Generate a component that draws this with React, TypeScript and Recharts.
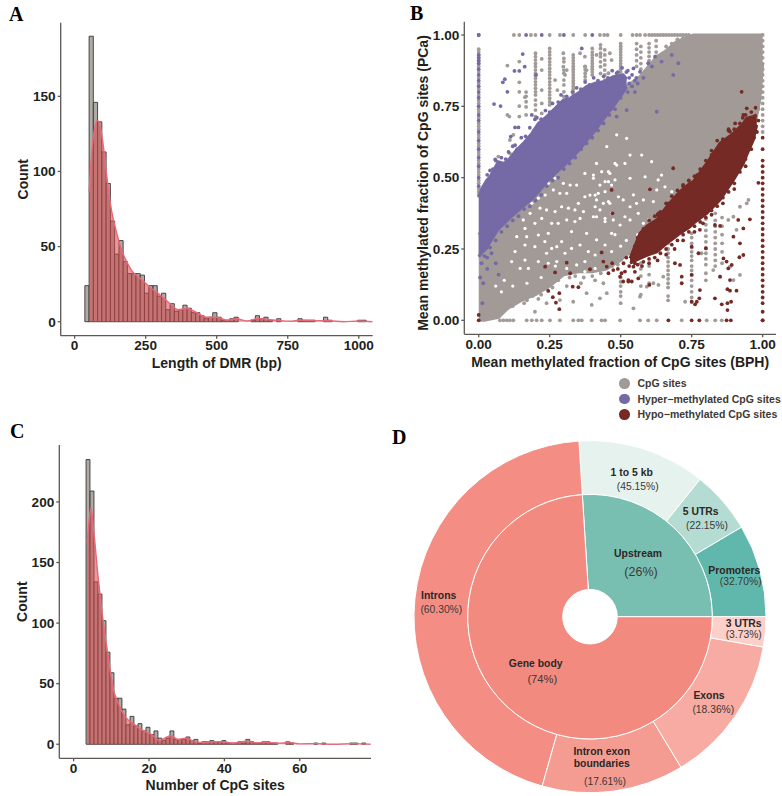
import React from 'react';
import {
  Area,
  Bar,
  ComposedChart,
  Pie,
  PieChart,
  Scatter,
  XAxis,
  YAxis,
} from 'recharts';

// Panel A: histogram of DMR length
const lengthBinStart = 36;
const lengthBinWidth = 15;
const lengthCounts = [
  24, 190, 146, 133, 113, 92, 67, 45, 54, 40, 32, 32, 32, 31, 19, 24, 24, 17, 19, 8, 12, 7, 8, 11,
  9, 6, 6, 4, 2, 3, 6, 3, 1, 1, 2, 3, 0, 0, 0, 1, 4, 2, 3, 1, 0, 2, 0, 0, 0, 0, 2, 1, 1, 1, 0, 0,
  3, 1, 0, 0, 0, 0, 0, 0, 1, 1, 0, 0,
];
const lengthKdeX = [
  51, 60, 72, 80, 89, 101, 113, 130, 148, 165, 183, 201, 230, 265, 300, 336, 365, 394, 430, 465,
  500, 535, 570, 606, 647, 676, 711, 758, 793, 864, 899, 946, 1000, 1049,
];
const lengthKdeY = [
  86, 112, 130, 134, 131, 117, 97, 74, 59, 48, 40, 34, 29, 23, 18, 12, 8, 9, 6, 3, 3, 1, 2, 0.5,
  2.2, 1.5, 1, 0.3, 1, 0.7, 0.6, 0, 0.5, 0,
];

// Panel C: histogram of CpG sites per DMR
const cpgBinStart = 3.3;
const cpgBinWidth = 1.06;
const cpgCounts = [
  235, 209, 134, 124, 102, 76, 59, 38, 38, 29, 16, 23, 15, 17, 11, 14, 8, 11, 5, 3, 5, 11, 4, 4, 4,
  6, 3, 4, 1, 2, 2, 3, 2, 2, 3, 1, 1, 1, 2, 1, 4, 2, 1, 1, 2, 2, 1, 1, 0, 0, 2, 1, 0, 0, 0, 0, 0,
  1, 0, 1, 0, 0, 0, 0, 0, 0, 1, 1, 0, 1, 0,
];
const cpgKdeX = [
  3.6, 4.15, 4.6, 5.2, 6.5, 7.9, 9.2, 10.5, 11.8, 13.6, 15.8, 18, 20.7, 22.9, 24.4, 25.8, 27.7,
  29.9, 32.2, 34.4, 37, 39.7, 42.3, 45.8, 48.5, 51.1, 54.2, 57.3, 60, 64.4, 68.8, 74.1, 78.8,
];
const cpgKdeY = [
  166, 186, 195, 180, 138, 100, 72, 46, 34, 23, 17, 12, 8, 3, 5.5, 7, 4, 5, 2, 1.4, 2, 2, 0.8, 2.5,
  1.1, 1.6, 0.8, 1.4, 0.3, 0.5, 0, 0.5, 0,
];

// Panel B: the solid clouds are far too many points to read one by one, so they are
// drawn as bands whose edges were read off the picture; loose dots are listed below.
const cloudX = [0, 0.02, 0.07, 0.1, 0.15, 0.2, 0.25, 0.3, 0.35, 0.4, 0.45, 0.5, 0.521, 0.568, 0.627, 0.66, 0.697, 0.756, 0.85, 0.897, 0.932, 0.967, 0.99, 1];
const cloudLow = [0, 0, 0.01, 0.04, 0.07, 0.09, 0.12, 0.16, 0.17, 0.17, 0.18, 0.21, 0.23, 0.25, 0.28, 0.31, 0.33, 0.38, 0.47, 0.515, 0.574, 0.655, 0.772, 0.9];
const cloudHigh = [0.3, 0.33, 0.45, 0.5, 0.55, 0.62, 0.68, 0.73, 0.77, 0.8, 0.82, 0.8, 0.82, 0.854, 0.924, 0.945, 0.977, 1, 1, 1, 1, 1, 1, 1];

const hyperX = [0, 0.01, 0.028, 0.04, 0.069, 0.09, 0.11, 0.128, 0.157, 0.187, 0.21, 0.239, 0.269, 0.298, 0.322, 0.357, 0.38, 0.41, 0.439, 0.474, 0.509, 0.521];
const hyperLow = [0.223, 0.235, 0.253, 0.275, 0.32, 0.34, 0.36, 0.375, 0.4, 0.425, 0.45, 0.485, 0.515, 0.54, 0.565, 0.6, 0.63, 0.665, 0.705, 0.75, 0.8, 0.818];
const hyperHigh = [0.43, 0.46, 0.49, 0.503, 0.556, 0.55, 0.568, 0.591, 0.62, 0.655, 0.69, 0.714, 0.743, 0.772, 0.778, 0.801, 0.819, 0.831, 0.836, 0.854, 0.86, 0.845];

const hypoX = [0.533, 0.568, 0.592, 0.627, 0.662, 0.685, 0.709, 0.744, 0.756, 0.803, 0.85, 0.897, 0.932, 0.944, 0.967, 0.979];
const hypoLow = [0.2, 0.217, 0.228, 0.24, 0.27, 0.287, 0.305, 0.328, 0.34, 0.375, 0.422, 0.492, 0.55, 0.58, 0.632, 0.685];
const hypoHigh = [0.217, 0.305, 0.33, 0.352, 0.398, 0.425, 0.451, 0.48, 0.486, 0.55, 0.62, 0.655, 0.69, 0.708, 0.715, 0.72];

// loose dots in columns: each x with the y values seen along it
const grayColumns: [number, number[]][] = [
  [0, [0.95, 0.94, 0.93, 0.92, 0.91, 0.9, 0.89, 0.87, 0.85, 0.83, 0.81, 0.79, 0.77, 0.76, 0.74, 0.73, 0.71, 0.69, 0.68, 0.67, 0.65, 0.64, 0.62, 0.61, 0.59, 0.58, 0.56, 0.55, 0.53, 0.52, 0.51, 0.49, 0.48, 0.46, 0.45, 0.44]],
  [0.167, [0.8, 0.785, 0.766, 0.748, 0.72]],
  [0.2, [0.936, 0.924, 0.912, 0.9, 0.889, 0.877, 0.865, 0.859, 0.848, 0.836, 0.825, 0.813, 0.801, 0.79, 0.772, 0.755, 0.737, 0.714]],
  [0.25, [0.953, 0.941, 0.93, 0.918, 0.906, 0.895, 0.883, 0.871, 0.86, 0.848, 0.836, 0.825, 0.813, 0.801, 0.79, 0.778, 0.766, 0.755]],
  [0.3, [0.918, 0.906, 0.877, 0.866, 0.842, 0.825, 0.801, 0.784]],
  [0.333, [0.93, 0.92, 0.91, 0.9, 0.89, 0.88, 0.87, 0.86, 0.85, 0.84, 0.83, 0.82, 0.81, 0.8, 0.79]],
  [0.375, [0.89, 0.878, 0.866, 0.854, 0.842]],
  [0.4, [0.953, 0.94, 0.93, 0.92, 0.91, 0.9, 0.89, 0.88, 0.87, 0.86]],
  [0.429, [0.965, 0.953, 0.936, 0.924, 0.906, 0.889, 0.865]],
  [0.444, [0.948, 0.93, 0.912, 0.895, 0.877, 0.86, 0.842]],
  [0.5, [0.97, 0.96, 0.95, 0.94, 0.93, 0.92, 0.91, 0.9, 0.89, 0.88, 0.87, 0.86, 0.85, 0.15, 0.135, 0.12, 0.1, 0.085, 0.06]],
  [0.556, [0.97, 0.95, 0.93, 0.91, 0.89]],
  [0.571, [0.96, 0.94, 0.92, 0.9, 0.88, 0.2, 0.18, 0.155, 0.12, 0.09]],
  [0.6, [0.97, 0.955, 0.94, 0.925, 0.91, 0.895, 0.19, 0.16, 0.13]],
  [0.625, [0.98, 0.96, 0.94, 0.925, 0.91]],
  [0.667, [0.27, 0.25, 0.235, 0.22, 0.205, 0.19, 0.175, 0.16, 0.145, 0.13, 0.115, 0.085, 0.07]],
  [0.75, [0.305, 0.29, 0.27, 0.255, 0.24, 0.225, 0.21, 0.19, 0.175, 0.16, 0.14, 0.12, 0.1, 0.08, 0.065]],
  [0.8, [0.375, 0.355, 0.335, 0.315, 0.295, 0.275, 0.255, 0.235, 0.215, 0.195, 0.165, 0.14]],
  [0.833, [0.375, 0.35, 0.33, 0.31, 0.29, 0.27, 0.25, 0.23, 0.21, 0.19]],
  [0.857, [0.36, 0.33, 0.3, 0.27, 0.24, 0.2]],
  [1, [1, 0.98, 0.96, 0.94, 0.92, 0.9, 0.88, 0.86, 0.84, 0.82, 0.8, 0.78, 0.76, 0.74, 0.72, 0.7, 0.68, 0.66]],
];
const hyperColumnY = [1, 0.93, 0.92, 0.91, 0.9, 0.88, 0.86, 0.84, 0.82, 0.8, 0.78, 0.75, 0.72, 0.7, 0.66, 0.63, 0.6, 0.57, 0.54, 0.5, 0.47];
const hypoColumnY = [0.64, 0.6, 0.56, 0.54, 0.52, 0.5, 0.48, 0.46, 0.44, 0.42, 0.4, 0.38, 0.36, 0.34, 0.32, 0.3, 0.28, 0.26, 0.24, 0.22, 0.2, 0.18, 0.16, 0.14, 0.12, 0.1, 0.08, 0.06, 0.03, 0];

// dots along the top (y = 1) and bottom (y = 0) edges
const grayTopX = [0.124, 0.143, 0.184, 0.2, 0.25, 0.286, 0.333, 0.375, 0.427, 0.442, 0.454, 0.5, 0.542, 0.556, 0.568, 0.586, 0.6, 0.61, 0.62, 0.63, 0.64, 0.65, 0.66, 0.67, 0.68, 0.69, 0.7, 0.71, 0.72, 0.73, 0.74];
const hyperTopX = [0, 0.167, 0.222, 0.3, 0.4];
const grayBottomX = [0.075, 0.087, 0.099, 0.11, 0.122, 0.169, 0.187, 0.204, 0.222, 0.251, 0.286, 0.333, 0.351, 0.363, 0.398, 0.433, 0.445, 0.498, 0.568, 0.597, 0.627, 0.715, 0.803, 0.833, 0.856];
const hypoBottomX = [0, 0.668, 0.75, 0.777, 0.873, 0.888, 1];

const grayLoose: [number, number][] = [
  [0.101, 0.893], [0.143, 0.907], [0.143, 0.834], [0.143, 0.801], [0.143, 0.751], [0.143, 0.714], [0.163, 0.782], [0.222, 0.916],
  [0.222, 0.877], [0.222, 0.807], [0.222, 0.76], [0.222, 0.725], [0.101, 0.72], [0.108, 0.714], [0.122, 0.65], [0.11, 0.632],
  [0.11, 0.585], [0.069, 0.574], [0.269, 0.842], [0.277, 0.807], [0.298, 0.936], [0.298, 0.889], [0.31, 0.877], [0.304, 0.86],
  [0.357, 0.936], [0.374, 0.924], [0.374, 0.889], [0.38, 0.877], [0.462, 0.936], [0.468, 0.912], [0.457, 0.866], [0.415, 0.93],
  [0.198, 0.03], [0.239, 0.06], [0.286, 0.071], [0.333, 0.065], [0.38, 0.095], [0.398, 0.054], [0.427, 0.077], [0.439, 0.13],
  [0.451, 0.095], [0.545, 0.042], [0.568, 0.083], [0.592, 0.118], [0.615, 0.13], [0.633, 0.124], [0.65, 0.153], [0.727, 0.065],
  [0.885, 0.188], [0.897, 0.141], [0.92, 0.159], [0.85, 0.153], [0.826, 0.176], [0.785, 0.235], [0.879, 0.352], [0.897, 0.363],
  [0.92, 0.398], [0.944, 0.41], [0.908, 0.317], [0.95, 0.422], [0.16, 0.06], [0.21, 0.075], [0.31, 0.12], [0.36, 0.13], [0.41, 0.14],
];
// rough edge of the gray cloud
const grayEdge: [number, number][] = [
  [0.03, 0.015], [0.06, 0.02], [0.08, 0.03], [0.095, 0.05], [0.12, 0.05], [0.135, 0.065], [0.17, 0.07], [0.19, 0.085], [0.22, 0.09],
  [0.24, 0.11], [0.26, 0.115], [0.28, 0.14], [0.32, 0.15], [0.34, 0.155], [0.37, 0.15], [0.4, 0.155], [0.43, 0.165], [0.47, 0.19],
  [0.49, 0.195], [0.905, 0.51], [0.92, 0.54], [0.945, 0.6], [0.96, 0.63], [0.975, 0.68], [0.985, 0.74], [0.993, 0.8], [0.996, 0.86],
  [0.66, 0.96], [0.68, 0.97], [0.7, 0.985], [0.72, 0.99],
];
const hyperLoose: [number, number][] = [
  [0.155, 0.933], [0.126, 0.874], [0.143, 0.874], [0.162, 0.889], [0.092, 0.845], [0.085, 0.834], [0.101, 0.801], [0.054, 0.758],
  [0.077, 0.751], [0.187, 0.72], [0.198, 0.704], [0.14, 0.676], [0.128, 0.676], [0.113, 0.644], [0.128, 0.614], [0.058, 0.564],
  [0.04, 0.525], [0.202, 0.86], [0.363, 0.953], [0.486, 0.866], [0.451, 0.831], [0.498, 0.836], [0.545, 0.883], [0.568, 0.871],
  [0.597, 0.901], [0.621, 0.924], [0.644, 0.907], [0.68, 0.93], [0.703, 0.901], [0.685, 0.86], [0.627, 0.731], [0.486, 0.714],
  [0.521, 0.737], [0.462, 0.749], [0.53, 0.85], [0.55, 0.84], [0.58, 0.85], [0.61, 0.89], [0.52, 0.87], [0.005, 0.15], [0.016, 0.13],
  [0.013, 0.06], [0.03, 0.18], [0.06, 0.2], [0.07, 0.16],
];
// rough edge of the hyper-methylated cloud
const hyperEdge: [number, number][] = [
  [0.01, 0.445], [0.02, 0.47], [0.03, 0.51], [0.05, 0.53], [0.06, 0.56], [0.08, 0.57], [0.095, 0.565], [0.105, 0.59], [0.12, 0.61],
  [0.135, 0.6], [0.15, 0.64], [0.165, 0.645], [0.18, 0.675], [0.195, 0.665], [0.205, 0.71], [0.22, 0.705], [0.235, 0.735], [0.25, 0.73],
  [0.26, 0.76], [0.28, 0.765], [0.29, 0.79], [0.31, 0.785], [0.33, 0.8], [0.345, 0.815], [0.36, 0.81], [0.375, 0.835], [0.39, 0.825],
  [0.405, 0.85], [0.42, 0.84], [0.44, 0.855], [0.455, 0.85], [0.47, 0.875], [0.49, 0.87], [0.505, 0.885], [0.525, 0.875], [0.54, 0.86],
  [0.555, 0.85], [0.56, 0.83], [0.53, 0.83], [0.54, 0.82], [0.55, 0.8], [0.525, 0.8], [0.5, 0.78], [0.48, 0.74], [0.46, 0.72], [0.44, 0.69],
  [0.42, 0.665], [0.4, 0.64], [0.38, 0.62], [0.36, 0.6], [0.34, 0.57], [0.32, 0.55], [0.3, 0.53], [0.28, 0.5], [0.26, 0.49], [0.24, 0.47],
  [0.22, 0.44], [0.2, 0.42], [0.18, 0.4], [0.16, 0.39], [0.14, 0.365], [0.12, 0.35], [0.1, 0.33], [0.08, 0.31], [0.06, 0.28], [0.04, 0.255],
  [0.02, 0.225], [0.01, 0.2], [0.03, 0.22], [0.045, 0.235],
];
const hypoLoose: [number, number][] = [
  [0.985, 0.482], [0.955, 0.354], [0.932, 0.322], [0.914, 0.352], [0.92, 0.27], [0.918, 0.221], [0.932, 0.229], [0.897, 0.293],
  [0.85, 0.331], [0.832, 0.334], [0.8, 0.252], [0.774, 0.235], [0.779, 0.317], [0.75, 0.258], [0.709, 0.194], [0.691, 0.2],
  [0.862, 0.217], [0.873, 0.206], [0.891, 0.194], [0.879, 0.182], [0.85, 0.153], [0.885, 0.141], [0.876, 0.109], [0.885, 0.104],
  [0.908, 0.104], [0.779, 0.106], [0.777, 0.077], [0.768, 0.065], [0.762, 0.056], [0.832, 0.077], [0.856, 0.056], [0.876, 0.06],
  [0.889, 0.065], [0.876, 0.036], [0.75, 0.159], [0.75, 0.065], [0.715, 0.153], [0.715, 0.13], [0.601, 0.124], [0.562, 0.147],
  [0.527, 0.141], [0.539, 0.136], [0.515, 0.171], [0.503, 0.165], [0.234, 0.188], [0.31, 0.202], [0.269, 0.168], [0.322, 0.165],
  [0.392, 0.179], [0.245, 0.103], [0.261, 0.081], [0.284, 0.095], [0.331, 0.118], [0.351, 0.116], [0.284, 0.039], [0.272, 0.062],
  [0.468, 0.457], [0.471, 0.375], [0.603, 0.459], [0.685, 0.533], [0.633, 0.375], [0.433, 0.238], [0.439, 0.206], [0.451, 0.188],
  [0.474, 0.176], [0.457, 0.165], [0.498, 0.153], [0.509, 0.136], [0.527, 0.136], [0.545, 0.188], [0, 0.019], [0.926, 0.801],
  [0.944, 0.743], [0.932, 0.72], [0.903, 0.69], [0.885, 0.661], [0.55, 0.17], [0.575, 0.19], [0.6, 0.2], [0.63, 0.21], [0.66, 0.23],
  [0.69, 0.25], [0.72, 0.28], [0.76, 0.31], [0.79, 0.34], [0.82, 0.37], [0.86, 0.41], [0.9, 0.46], [0.94, 0.54], [0.96, 0.6],
  [0.55, 0.26], [0.585, 0.31], [0.63, 0.37], [0.67, 0.41], [0.72, 0.47], [0.77, 0.51], [0.82, 0.58], [0.88, 0.67], [0.93, 0.71],
];
// rough edge of the hypo-methylated cloud
const hypoEdge: [number, number][] = [
  [0.56, 0.195], [0.58, 0.205], [0.6, 0.215], [0.62, 0.22], [0.64, 0.235], [0.66, 0.25], [0.68, 0.265], [0.7, 0.28], [0.72, 0.3], [0.74, 0.31],
  [0.76, 0.33], [0.78, 0.345], [0.8, 0.36], [0.82, 0.385], [0.84, 0.4], [0.86, 0.43], [0.88, 0.45], [0.9, 0.48], [0.92, 0.52], [0.94, 0.565],
  [0.95, 0.6], [0.56, 0.29], [0.58, 0.32], [0.6, 0.35], [0.62, 0.365], [0.64, 0.38], [0.66, 0.41], [0.68, 0.435], [0.7, 0.455], [0.72, 0.475],
  [0.74, 0.49], [0.76, 0.505], [0.78, 0.53], [0.8, 0.56], [0.82, 0.595], [0.84, 0.63], [0.86, 0.635], [0.88, 0.665], [0.9, 0.67], [0.92, 0.69],
  [0.94, 0.72], [0.96, 0.73], [0.975, 0.745], [0.985, 0.7], [0.98, 0.66], [0.97, 0.64], [0.54, 0.22], [0.55, 0.25], [0.55, 0.2], [0.53, 0.19],
  [0.51, 0.2], [0.52, 0.22], [0.49, 0.18], [0.47, 0.2], [0.57, 0.27],
];
// white gaps where the gray cloud thins out
const cloudGaps: [number, number][] = [
  [0.298, 0.48], [0.374, 0.515], [0.269, 0.498], [0.234, 0.439], [0.286, 0.445], [0.31, 0.445], [0.351, 0.41], [0.269, 0.381],
  [0.316, 0.393], [0.392, 0.439], [0.421, 0.445], [0.445, 0.486], [0.21, 0.428], [0.187, 0.41], [0.28, 0.34], [0.257, 0.34],
  [0.198, 0.34], [0.163, 0.322], [0.357, 0.357], [0.404, 0.363], [0.457, 0.416], [0.445, 0.346], [0.38, 0.305], [0.327, 0.311],
  [0.245, 0.305], [0.21, 0.299], [0.163, 0.264], [0.198, 0.258], [0.275, 0.258], [0.239, 0.235], [0.327, 0.252], [0.386, 0.241],
  [0.445, 0.264], [0.41, 0.229], [0.163, 0.211], [0.21, 0.206], [0.275, 0.206], [0.345, 0.194], [0.374, 0.206], [0.41, 0.182],
  [0.468, 0.305], [0.128, 0.241], [0.292, 0.276], [0.433, 0.521], [0.468, 0.474], [0.345, 0.474], [0.486, 0.65], [0.521, 0.638],
  [0.415, 0.55], [0.48, 0.55], [0.533, 0.579], [0.404, 0.509], [0.457, 0.486], [0.48, 0.492], [0.533, 0.498], [0.609, 0.556],
  [0.586, 0.503], [0.632, 0.492], [0.41, 0.439], [0.445, 0.451], [0.492, 0.433], [0.533, 0.398], [0.58, 0.422], [0.627, 0.457],
  [0.656, 0.468], [0.41, 0.398], [0.445, 0.357], [0.515, 0.363], [0.556, 0.41], [0.598, 0.352], [0.486, 0.544], [0.439, 0.41],
  [0.56, 0.3], [0.6, 0.31], [0.52, 0.28], [0.48, 0.3], [0.5, 0.26], [0.245, 0.48], [0.263, 0.457], [0.216, 0.393], [0.239, 0.387],
  [0.292, 0.398], [0.339, 0.387], [0.369, 0.381], [0.374, 0.433], [0.322, 0.474], [0.404, 0.498], [0.457, 0.521], [0.181, 0.375],
  [0.157, 0.352], [0.222, 0.357], [0.31, 0.352], [0.339, 0.346], [0.427, 0.387], [0.468, 0.375], [0.134, 0.293], [0.169, 0.293],
  [0.233, 0.276], [0.257, 0.252], [0.304, 0.235], [0.357, 0.264], [0.415, 0.282], [0.468, 0.241], [0.245, 0.2], [0.31, 0.182],
  [0.374, 0.171], [0.175, 0.182], [0.116, 0.206], [0.146, 0.182], [0.427, 0.474], [0.415, 0.422], [0.462, 0.41], [0.509, 0.422],
  [0.545, 0.44], [0.615, 0.416], [0.562, 0.375], [0.415, 0.363], [0.474, 0.352], [0.498, 0.334], [0.533, 0.352], [0.58, 0.34],
  [0.615, 0.328], [0.462, 0.515], [0.515, 0.55], [0.574, 0.579], [0.451, 0.609], [0.644, 0.509], [0.68, 0.451], [0.06, 0.12],
  [0.09, 0.14], [0.12, 0.12], [0.17, 0.13], [0.22, 0.15], [0.27, 0.19], [0.08, 0.1],
];

const legendNames = ['CpG sites', 'Hyper\u2212methylated CpG sites', 'Hypo\u2212methylated CpG sites'];
const legendColors = ['#a19a97', '#7569a6', '#762a25'];

// Panel D: genomic annotation
const innerNames = ['Upstream', 'Gene body'];
const innerValues = [26, 74];
const innerColors = ['#78bfb2', '#f38a80'];
const outerNames = ['Promoters', '5 UTRs', '1 to 5 kb', 'Introns', 'Intron exon boundaries', 'Exons', '3 UTRs'];
const outerParents = [0, 0, 0, 1, 1, 1, 1];
const outerShares = [32.7, 22.15, 45.15, 60.3, 17.61, 18.36, 3.73];
const outerColors = ['#60b8ac', '#b5dcd3', '#e5f2ee', '#f48e85', '#f59c92', '#f7aba2', '#fccfc9'];

// text placement relative to the pie centre: name lines, then the percentage
const innerLabelPlace = [
  { name: [[48, -63]], pct: [51, -45], pctSize: 12.5 },
  { name: [[-54.3, 47]], pct: [-47.7, 62], pctSize: 11.2 },
];
const outerLabelPlace = [
  { name: [[144.3, -46.7]], pct: [150.7, -35] },
  { name: [[110.7, -105.7]], pct: [117, -91.3] },
  { name: [[41.7, -144]], pct: [47.7, -130.7] },
  { name: [[-151.3, -21.7]], pct: [-148.7, -7.3] },
  { name: [[11.7, 134.3], [11.7, 147]], pct: [15, 164.7] },
  { name: [[119, 78.3]], pct: [123.3, 92.3] },
  { name: [[153.7, 6.7]], pct: [153.7, 17.3] },
];

const panelLetters = [
  { text: 'A', left: 9, top: 3 },
  { text: 'B', left: 410, top: 2 },
  { text: 'C', left: 10, top: 420 },
  { text: 'D', left: 392, top: 426 },
];

const FONT = '"Liberation Sans", Arial, sans-serif';
const INK = '#231f1c';
const AXIS = '#5c5854';
const tickStyle = { fontSize: 13.6, fontWeight: 700, fill: INK, fontFamily: FONT };
const titleStyle = { fontSize: 14, fontWeight: 700, fill: INK, fontFamily: FONT, textAnchor: 'middle' as const };

const zipRows = (xs: number[], ys: number[]) => xs.map((x, i) => ({ x, y: ys[i] }));
const bandRows = (xs: number[], low: number[], high: number[]) =>
  xs.map((x, i) => ({ x, band: [low[i], high[i]] }));
const pairRows = (pairs: [number, number][]) => pairs.map(([x, y]) => ({ x, y }));

const dot = (r: number, fill: string) => (p: any) => <circle cx={p.cx} cy={p.cy} r={r} fill={fill} />;

interface HistogramProps {
  left: number;
  top: number;
  width: number;
  height: number;
  margin: { top: number; right: number; bottom: number; left: number };
  counts: number[];
  binStart: number;
  binWidth: number;
  barSize: number;
  kdeX: number[];
  kdeY: number[];
  xDomain: [number, number];
  yDomain: [number, number];
  xTicks: number[];
  yTicks: number[];
  xTitle: string;
  titleOffset: number;
}

const Histogram = (h: HistogramProps) => {
  const bins = h.counts.map((y, i) => ({ x: h.binStart + h.binWidth * (i + 0.5), y }));
  return (
    <div style={{ position: 'absolute', left: h.left, top: h.top }}>
      <ComposedChart width={h.width} height={h.height} data={bins} margin={h.margin}>
        <XAxis
          dataKey="x"
          type="number"
          domain={h.xDomain}
          ticks={h.xTicks}
          allowDataOverflow
          height={32}
          stroke={AXIS}
          strokeWidth={1.3}
          tickSize={3}
          tickMargin={2}
          interval={0}
          tick={tickStyle}
          label={{ value: h.xTitle, position: 'insideBottom', offset: 0, style: titleStyle }}
        />
        {/* the density curve has its own hidden axis so its x values do not narrow the bars */}
        <XAxis xAxisId="kde" dataKey="x" type="number" domain={h.xDomain} allowDataOverflow hide />
        <YAxis
          type="number"
          domain={h.yDomain}
          ticks={h.yTicks}
          allowDataOverflow
          width={45}
          stroke={AXIS}
          strokeWidth={1.3}
          tickSize={3}
          tickMargin={2}
          interval={0}
          tick={tickStyle}
          label={{ value: 'Count', angle: -90, position: 'insideLeft', offset: h.titleOffset, style: titleStyle }}
        />
        <Bar dataKey="y" barSize={h.barSize} fill="#b0aaa5" stroke="#3b3633" strokeWidth={0.9} isAnimationActive={false} />
        <Area
          xAxisId="kde"
          data={zipRows(h.kdeX, h.kdeY)}
          dataKey="y"
          type="monotone"
          fill="#d6464a"
          fillOpacity={0.55}
          stroke="#e8697a"
          strokeWidth={1.4}
          dot={false}
          activeDot={false}
          isAnimationActive={false}
          zIndex={350}
        />
      </ComposedChart>
    </div>
  );
};

const MethylationScatter = () => {
  const grayDots = [
    ...grayColumns.flatMap(([x, ys]) => ys.map((y) => ({ x, y }))),
    ...grayTopX.map((x) => ({ x, y: 1 })),
    ...grayBottomX.map((x) => ({ x, y: 0 })),
    ...pairRows(grayLoose),
    ...pairRows(grayEdge),
  ];
  const hyperDots = [
    ...hyperColumnY.map((y) => ({ x: 0, y })),
    ...hyperTopX.map((x) => ({ x, y: 1 })),
    ...pairRows(hyperLoose),
    ...pairRows(hyperEdge),
  ];
  const hypoDots = [
    ...hypoColumnY.map((y) => ({ x: 1, y })),
    ...hypoBottomX.map((x) => ({ x, y: 0 })),
    ...pairRows(hypoLoose),
    ...pairRows(hypoEdge),
  ];
  return (
    <div style={{ position: 'absolute', left: 400, top: 0 }}>
      <ComposedChart width={382} height={372} margin={{ top: 21.7, right: 6, bottom: 4.7, left: 19.3 }}>
        <XAxis
          dataKey="x"
          type="number"
          domain={[-0.0507, 1.047]}
          ticks={[0, 0.25, 0.5, 0.75, 1]}
          tickFormatter={(v) => v.toFixed(2)}
          allowDataOverflow
          height={33}
          stroke={AXIS}
          strokeWidth={1.3}
          tickSize={3}
          tickMargin={2}
          interval={0}
          tick={tickStyle}
          label={{ value: 'Mean methylated fraction of CpG sites (BPH)', position: 'insideBottom', offset: 0, style: titleStyle }}
        />
        <YAxis
          dataKey="y"
          type="number"
          domain={[-0.049, 1.0466]}
          ticks={[0, 0.25, 0.5, 0.75, 1]}
          tickFormatter={(v) => v.toFixed(2)}
          allowDataOverflow
          width={45}
          stroke={AXIS}
          strokeWidth={1.3}
          tickSize={3}
          tickMargin={2}
          interval={0}
          tick={tickStyle}
          label={{ value: 'Mean methylated fraction of CpG sites (PCa)', angle: -90, position: 'insideLeft', offset: 3.7, dy: 5, style: titleStyle }}
        />
        <Area data={bandRows(cloudX, cloudLow, cloudHigh)} dataKey="band" type="linear" fill="#a19a97" fillOpacity={1} stroke="#a19a97" strokeWidth={3} dot={false} activeDot={false} isAnimationActive={false} />
        <Scatter data={grayDots} fill="#a19a97" shape={dot(1.9, '#a19a97')} isAnimationActive={false} />
        <Scatter data={pairRows(cloudGaps)} fill="#ffffff" shape={dot(1.6, '#ffffff')} isAnimationActive={false} />
        <Area data={bandRows(hyperX, hyperLow, hyperHigh)} dataKey="band" type="linear" fill="#7569a6" fillOpacity={1} stroke="#7569a6" strokeWidth={3} dot={false} activeDot={false} isAnimationActive={false} zIndex={650} />
        <Area data={bandRows(hypoX, hypoLow, hypoHigh)} dataKey="band" type="linear" fill="#762a25" fillOpacity={1} stroke="#762a25" strokeWidth={3} dot={false} activeDot={false} isAnimationActive={false} zIndex={650} />
        <Scatter data={hyperDots} fill="#7569a6" shape={dot(1.9, '#7569a6')} isAnimationActive={false} zIndex={660} />
        <Scatter data={hypoDots} fill="#762a25" shape={dot(1.9, '#762a25')} isAnimationActive={false} zIndex={660} />
      </ComposedChart>
    </div>
  );
};

const ScatterKey = () => (
  <div style={{ position: 'absolute', left: 619, top: 375.5, fontFamily: FONT, fontSize: 10.5, fontWeight: 700, color: '#3d3935' }}>
    {legendNames.map((name, i) => (
      <div key={name} style={{ display: 'flex', alignItems: 'center', height: 15.5, whiteSpace: 'nowrap' }}>
        <span style={{ width: 10.5, height: 10.5, borderRadius: '50%', background: legendColors[i], marginRight: 8 }} />
        {name}
      </div>
    ))}
  </div>
);

const pieLabel = (names: string[], shares: number[], places: any[], nameLines?: Record<number, string[]>) => (p: any) => {
  const place = places[p.index];
  const lines = nameLines?.[p.index] ?? [names[p.index]];
  const pct = shares[p.index];
  const pctText = Number.isInteger(pct) ? `(${pct}%)` : `(${pct.toFixed(2)}%)`;
  return (
    <g fontFamily={FONT} fill="#2b2826" textAnchor="middle" dominantBaseline="central">
      {lines.map((line, i) => (
        <text key={line} x={p.cx + place.name[i][0]} y={p.cy + place.name[i][1]} fontSize={10.4} fontWeight={700}>
          {line}
        </text>
      ))}
      <text x={p.cx + place.pct[0]} y={p.cy + place.pct[1]} fontSize={place.pctSize ?? 10.3} fill="#3d3935">
        {pctText}
      </text>
    </g>
  );
};

const Sunburst = () => {
  const innerRows = innerNames.map((name, i) => ({ name, value: innerValues[i], fill: innerColors[i] }));
  const outerRows = outerNames.map((name, i) => ({
    name,
    value: (innerValues[outerParents[i]] * outerShares[i]) / 100,
    fill: outerColors[i],
  }));
  return (
    <div style={{ position: 'absolute', left: 390, top: 430 }}>
      <PieChart width={392} height={366} margin={{ top: 0, right: 0, bottom: 0, left: 0 }}>
        <Pie
          data={outerRows}
          dataKey="value"
          cx={200}
          cy={186.7}
          innerRadius={122.3}
          outerRadius={176}
          startAngle={0}
          endAngle={360}
          stroke="#ffffff"
          strokeWidth={1}
          labelLine={false}
          label={pieLabel(outerNames, outerShares, outerLabelPlace, { 4: ['Intron exon', 'boundaries'] })}
          isAnimationActive={false}
        />
        <Pie
          data={innerRows}
          dataKey="value"
          cx={200}
          cy={186.7}
          innerRadius={27.3}
          outerRadius={122.3}
          startAngle={0}
          endAngle={360}
          stroke="#ffffff"
          strokeWidth={1}
          labelLine={false}
          label={pieLabel(innerNames, innerValues, innerLabelPlace)}
          isAnimationActive={false}
        />
      </PieChart>
    </div>
  );
};

export default function App() {
  return (
    <div style={{ position: 'absolute', left: 0, top: 0, width: 782, height: 796, background: '#ffffff', overflow: 'hidden' }}>
      {panelLetters.map((l) => (
        <div
          key={l.text}
          style={{ position: 'absolute', left: l.left, top: l.top, fontFamily: '"Liberation Serif", serif', fontWeight: 700, fontSize: 20, color: '#000' }}
        >
          {l.text}
        </div>
      ))}
      <Histogram
        left={0}
        top={0}
        width={391}
        height={385}
        margin={{ top: 22.7, right: 18.3, bottom: 17.3, left: 15.7 }}
        counts={lengthCounts}
        binStart={lengthBinStart}
        binWidth={lengthBinWidth}
        barSize={4.2}
        kdeX={lengthKdeX}
        kdeY={lengthKdeY}
        xDomain={[-49, 1049]}
        yDomain={[-9.3, 199]}
        xTicks={[0, 250, 500, 750, 1000]}
        yTicks={[0, 50, 100, 150]}
        xTitle="Length of DMR (bp)"
        titleOffset={7}
      />
      <MethylationScatter />
      <ScatterKey />
      <Histogram
        left={0}
        top={420}
        width={391}
        height={376}
        margin={{ top: 25, right: 20, bottom: 5.7, left: 14.3 }}
        counts={cpgCounts}
        binStart={cpgBinStart}
        binWidth={cpgBinWidth}
        barSize={3.9}
        kdeX={cpgKdeX}
        kdeY={cpgKdeY}
        xDomain={[-3.8, 78.9]}
        yDomain={[-11.6, 247]}
        xTicks={[0, 20, 40, 60]}
        yTicks={[0, 50, 100, 150, 200]}
        xTitle="Number of CpG sites"
        titleOffset={7.4}
      />
      <Sunburst />
    </div>
  );
}
